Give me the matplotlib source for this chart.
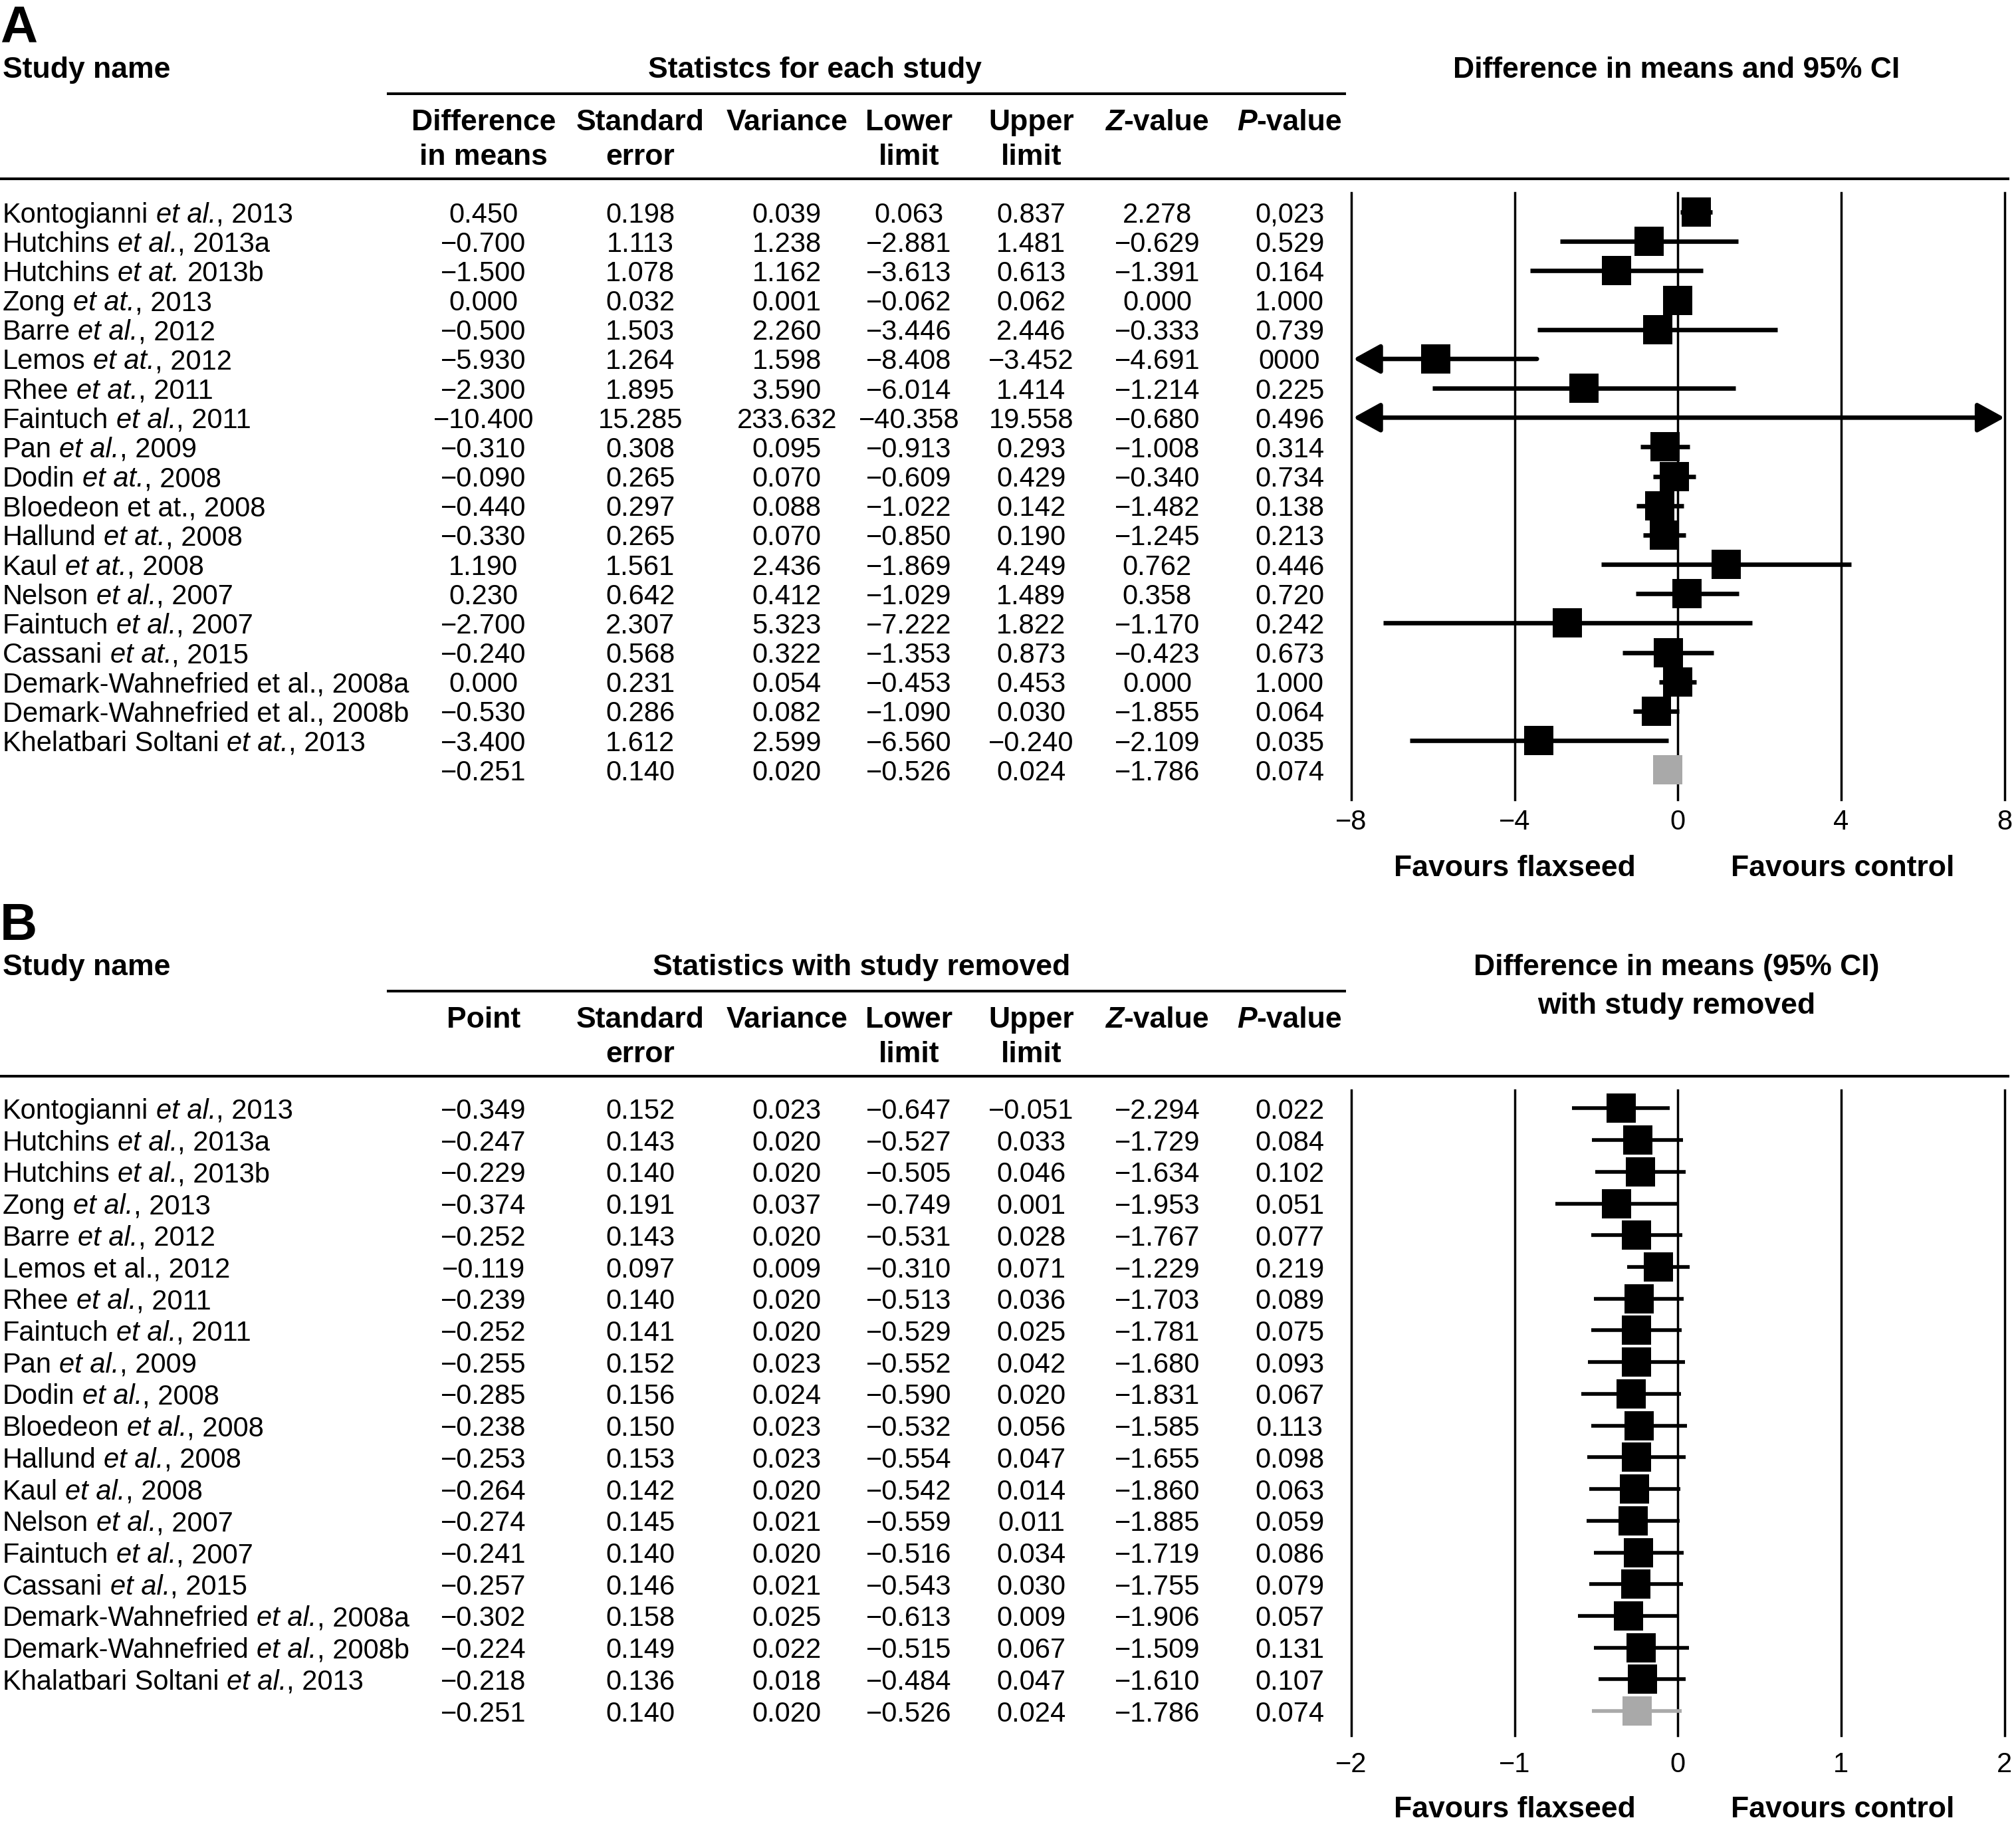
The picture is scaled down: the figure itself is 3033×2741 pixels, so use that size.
import matplotlib
matplotlib.use('Agg')
import matplotlib.pyplot as plt
from matplotlib.lines import Line2D
from matplotlib.transforms import blended_transform_factory as blend

plt.rcParams['font.family'] = ['Liberation Sans', 'DejaVu Sans']

# ---------------- data: panel A ----------------
names_a = ["Kontogianni *et al.*, 2013", "Hutchins *et al.*, 2013a", "Hutchins *et at.* 2013b",
           "Zong *et at.*, 2013", "Barre *et al.*, 2012", "Lemos *et at.*, 2012",
           "Rhee *et at.*, 2011", "Faintuch *et al.*, 2011", "Pan *et al.*, 2009",
           "Dodin *et at.*, 2008", "Bloedeon et at., 2008", "Hallund *et at.*, 2008",
           "Kaul *et at.*, 2008", "Nelson *et al.*, 2007", "Faintuch *et al.*, 2007",
           "Cassani *et at.*, 2015", "Demark-Wahnefried et al., 2008a",
           "Demark-Wahnefried et al., 2008b", "Khelatbari Soltani *et at.*, 2013", ""]
diff_a = [0.450, -0.700, -1.500, 0.000, -0.500, -5.930, -2.300, -10.400, -0.310, -0.090,
          -0.440, -0.330, 1.190, 0.230, -2.700, -0.240, 0.000, -0.530, -3.400, -0.251]
se_a = [0.198, 1.113, 1.078, 0.032, 1.503, 1.264, 1.895, 15.285, 0.308, 0.265,
        0.297, 0.265, 1.561, 0.642, 2.307, 0.568, 0.231, 0.286, 1.612, 0.140]
var_a = [0.039, 1.238, 1.162, 0.001, 2.260, 1.598, 3.590, 233.632, 0.095, 0.070,
         0.088, 0.070, 2.436, 0.412, 5.323, 0.322, 0.054, 0.082, 2.599, 0.020]
low_a = [0.063, -2.881, -3.613, -0.062, -3.446, -8.408, -6.014, -40.358, -0.913, -0.609,
         -1.022, -0.850, -1.869, -1.029, -7.222, -1.353, -0.453, -1.090, -6.560, -0.526]
up_a = [0.837, 1.481, 0.613, 0.062, 2.446, -3.452, 1.414, 19.558, 0.293, 0.429,
        0.142, 0.190, 4.249, 1.489, 1.822, 0.873, 0.453, 0.030, -0.240, 0.024]
z_a = [2.278, -0.629, -1.391, 0.000, -0.333, -4.691, -1.214, -0.680, -1.008, -0.340,
       -1.482, -1.245, 0.762, 0.358, -1.170, -0.423, 0.000, -1.855, -2.109, -1.786]
p_a = ["0,023", "0.529", "0.164", "1.000", "0.739", "0000", "0.225", "0.496", "0.314", "0.734",
       "0.138", "0.213", "0.446", "0.720", "0.242", "0.673", "1.000", "0.064", "0.035", "0.074"]
ticks_a = [-8, -4, 0, 4, 8]

# ---------------- data: panel B ----------------
names_b = ["Kontogianni *et al.*, 2013", "Hutchins *et al.*, 2013a", "Hutchins *et al.*, 2013b",
           "Zong *et al.*, 2013", "Barre *et al.*, 2012", "Lemos et al., 2012",
           "Rhee *et al.*, 2011", "Faintuch *et al.*, 2011", "Pan *et al.*, 2009",
           "Dodin *et al.*, 2008", "Bloedeon *et al.*, 2008", "Hallund *et al.*, 2008",
           "Kaul *et al.*, 2008", "Nelson *et al.*, 2007", "Faintuch *et al.*, 2007",
           "Cassani *et al.*, 2015", "Demark-Wahnefried *et al.*, 2008a",
           "Demark-Wahnefried *et al.*, 2008b", "Khalatbari Soltani *et al.*, 2013", ""]
point_b = [-0.349, -0.247, -0.229, -0.374, -0.252, -0.119, -0.239, -0.252, -0.255, -0.285,
           -0.238, -0.253, -0.264, -0.274, -0.241, -0.257, -0.302, -0.224, -0.218, -0.251]
se_b = [0.152, 0.143, 0.140, 0.191, 0.143, 0.097, 0.140, 0.141, 0.152, 0.156,
        0.150, 0.153, 0.142, 0.145, 0.140, 0.146, 0.158, 0.149, 0.136, 0.140]
var_b = [0.023, 0.020, 0.020, 0.037, 0.020, 0.009, 0.020, 0.020, 0.023, 0.024,
         0.023, 0.023, 0.020, 0.021, 0.020, 0.021, 0.025, 0.022, 0.018, 0.020]
low_b = [-0.647, -0.527, -0.505, -0.749, -0.531, -0.310, -0.513, -0.529, -0.552, -0.590,
         -0.532, -0.554, -0.542, -0.559, -0.516, -0.543, -0.613, -0.515, -0.484, -0.526]
up_b = [-0.051, 0.033, 0.046, 0.001, 0.028, 0.071, 0.036, 0.025, 0.042, 0.020,
        0.056, 0.047, 0.014, 0.011, 0.034, 0.030, 0.009, 0.067, 0.047, 0.024]
z_b = [-2.294, -1.729, -1.634, -1.953, -1.767, -1.229, -1.703, -1.781, -1.680, -1.831,
       -1.585, -1.655, -1.860, -1.885, -1.719, -1.755, -1.906, -1.509, -1.610, -1.786]
p_b = ["0.022", "0.084", "0.102", "0.051", "0.077", "0.219", "0.089", "0.075", "0.093", "0.067",
       "0.113", "0.098", "0.063", "0.059", "0.086", "0.079", "0.057", "0.131", "0.107", "0.074"]
ticks_b = [-2, -1, 0, 1, 2]

# layout is measured on a 1568 x 1417 copy of the reference
RW, RH = 1568.0, 1417.0
def fx(x): return x / RW
def fy(y): return 1 - y / RH

COLS = [376, 498, 612, 707, 802, 900, 1003]
BODY = 30
HEAD = 32
GREY = '#a9a9a9'

fig = plt.figure(figsize=(30.33, 27.41), dpi=100)
rend = fig.canvas.get_renderer()
WPX = fig.bbox.width


def width_px(s, size, weight='normal', style='normal'):
    t = fig.text(0, 0, s, fontsize=size, fontweight=weight, fontstyle=style)
    w = t.get_window_extent(rend).width
    t.remove()
    return w


def rich(x, y, s, tr, size, weight='normal', ha='left'):
    # text with *italic* parts, x is a figure fraction
    sp = width_px('a a', size, weight) - width_px('aa', size, weight)
    pieces = []
    for i, seg in enumerate(s.split('*')):
        if not seg:
            continue
        lead = len(seg) - len(seg.lstrip(' '))
        trail = len(seg) - len(seg.rstrip(' '))
        if lead:
            pieces.append((None, False, lead))
        if seg.strip(' '):
            pieces.append((seg.strip(' '), i % 2 == 1, 0))
        if trail and seg.strip(' '):
            pieces.append((None, False, trail))
    texts, widths = [], []
    for txt, it, n in pieces:
        if txt is None:
            texts.append(None)
            widths.append(n * sp)
            continue
        t = fig.text(0, y, txt, transform=tr, fontsize=size, fontweight=weight,
                     fontstyle='italic' if it else 'normal', va='center_baseline', ha='left')
        texts.append(t)
        widths.append(t.get_window_extent(rend).width)
    x0 = x * WPX
    if ha == 'center':
        x0 -= sum(widths) / 2
    for t, w in zip(texts, widths):
        if t is not None:
            t.set_x(x0 / WPX)
        x0 += w


def hline(x0, x1, y, lw=2.9):
    fig.add_artist(Line2D([fx(x0), fx(x1)], [fy(y), fy(y)], transform=fig.transFigure,
                          color='k', lw=lw))


def panel(letter, top, title_stats, title_stats_x, title_ci, col1, names, cols, low, up, ticks,
          row0, step, ax_top, ax_bot, tick_y, fav_y, ms, ci_lw, summary_line):
    fig.text(fx(0), fy(top), letter, fontsize=56, fontweight='bold', va='center_baseline', ha='left')
    fig.text(fx(2), fy(top + 34), 'Study name', fontsize=HEAD, fontweight='bold',
             va='center_baseline', ha='left')
    fig.text(fx(title_stats_x), fy(top + 34), title_stats, fontsize=HEAD, fontweight='bold',
             va='center_baseline', ha='center')
    for k, line in enumerate(title_ci):
        fig.text(fx(1304), fy(top + 34 + 30 * k), line, fontsize=HEAD, fontweight='bold',
                 va='center_baseline', ha='center')
    hline(302, 1046, top + 55)
    heads = [col1, ['Standard', 'error'], ['Variance'], ['Lower', 'limit'], ['Upper', 'limit'],
             ['*Z*-value'], ['*P*-value']]
    for cx, lines in zip(COLS, heads):
        for k, line in enumerate(lines):
            rich(fx(cx), fy(top + 75 + 27 * k), line, fig.transFigure, HEAD, 'bold', 'center')
    hline(0, 1562, top + 121)

    ax = fig.add_axes([fx(1051), fy(ax_bot), fx(1559) - fx(1051), fy(ax_top) - fy(ax_bot)])
    lo_lim, hi_lim = ticks[0], ticks[-1]
    ax.set_xlim(lo_lim, hi_lim)
    ax.set_ylim((ax_bot - row0) / step, (ax_top - row0) / step)
    ax.axis('off')
    for t in ticks:
        ax.axvline(t, color='k', lw=2.5, zorder=1, clip_on=False)

    n = len(names)
    rows = list(range(n))
    est = cols[0]
    head = 0.03 * (hi_lim - lo_lim) / 16 * 16
    aprops = dict(lw=ci_lw, color='k', shrinkA=0, shrinkB=0, mutation_scale=62)
    for i in range(n - 1):
        lo, hi = low[i], up[i]
        tip_l, tip_r = lo_lim + 0.05 * (hi_lim - lo_lim) / 16, hi_lim
        if lo < lo_lim and hi > hi_lim:
            ax.annotate('', xy=(tip_r, i), xytext=(tip_l, i),
                        arrowprops=dict(arrowstyle='<|-|>,head_length=0.4,head_width=0.22', **aprops))
        elif lo < lo_lim:
            ax.annotate('', xy=(tip_l, i), xytext=(hi, i),
                        arrowprops=dict(arrowstyle='-|>,head_length=0.4,head_width=0.22', **aprops))
        elif hi > hi_lim:
            ax.annotate('', xy=(tip_r, i), xytext=(lo, i),
                        arrowprops=dict(arrowstyle='-|>,head_length=0.4,head_width=0.22', **aprops))
        else:
            ax.plot([lo, hi], [i, i], color='k', lw=ci_lw, zorder=2, solid_capstyle='butt')
    ax.plot(est[:-1], rows[:-1], 's', ms=ms, mew=0, color='k', zorder=3)
    if summary_line:
        ax.plot([low[-1], up[-1]], [n - 1, n - 1], color=GREY, lw=ci_lw, zorder=2,
                solid_capstyle='butt')
    ax.plot([est[-1]], [n - 1], 's', ms=ms, mew=0, color=GREY, zorder=3)

    # table text, rows share the forest plot's y scale
    tr = blend(fig.transFigure, ax.transData)
    for i, nm in enumerate(names):
        if nm:
            rich(fx(2), i, nm, tr, BODY)
        for cx, vals in zip(COLS, cols):
            v = vals[i]
            s = v if isinstance(v, str) else f'{v:.3f}'.replace('-', '\u2212')
            fig.text(fx(cx), i, s, transform=tr, fontsize=BODY, ha='center', va='center_baseline')

    trx = blend(ax.transData, fig.transFigure)
    for t in ticks:
        fig.text(t, fy(tick_y), f'{t}'.replace('-', '\u2212'), transform=trx, fontsize=BODY,
                 ha='center', va='center_baseline')
    fig.text(fx(1178), fy(fav_y), 'Favours flaxseed', fontsize=HEAD, fontweight='bold',
             ha='center', va='center_baseline')
    fig.text(fx(1433), fy(fav_y), 'Favours control', fontsize=HEAD, fontweight='bold',
             ha='center', va='center_baseline')


panel('A', 18, 'Statistcs for each study', 634, ['Difference in means and 95% CI'],
      ['Difference', 'in means'], names_a,
      [diff_a, se_a, var_a, low_a, up_a, z_a, p_a], low_a, up_a, ticks_a,
      165, 22.83, 150, 622, 637, 673, 32, 4.8, False)

panel('B', 716, 'Statistics with study removed', 670,
      ['Difference in means (95% CI)', 'with study removed'],
      ['Point'], names_b,
      [point_b, se_b, var_b, low_b, up_b, z_b, p_b], low_b, up_b, ticks_b,
      862, 24.67, 848, 1350, 1370, 1405, 31, 4.0, True)

fig.savefig('out.png', dpi=100)
